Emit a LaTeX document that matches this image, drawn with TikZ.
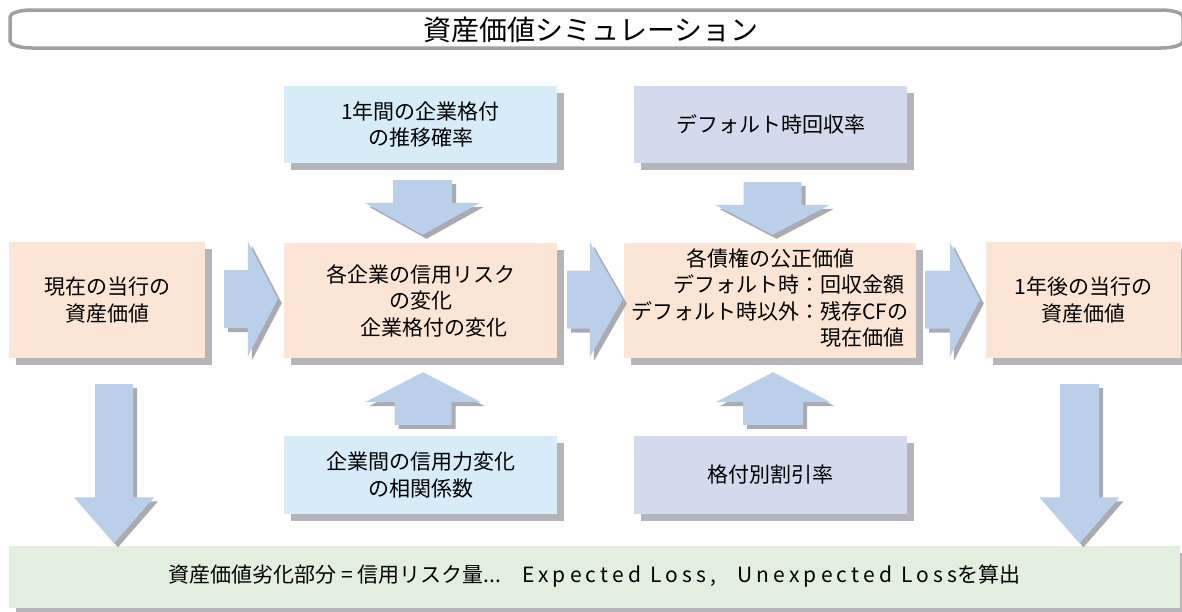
\documentclass[tikz,border=0pt]{standalone}
\usepackage{fontspec}
\setmainfont{Noto Sans CJK JP}
\newfontfamily\latinsp[LetterSpace=20]{Noto Sans CJK JP}
\usetikzlibrary{calc,shadows}
\definecolor{peach}{RGB}{252,229,212}
\definecolor{lblue}{RGB}{214,236,249}
\definecolor{lav}{RGB}{212,218,237}
\definecolor{lgreen}{RGB}{227,239,222}
\definecolor{ablue}{RGB}{185,207,234}
\definecolor{ashadow}{RGB}{170,170,176}
\definecolor{shgray}{RGB}{180,180,186}
\definecolor{tgray}{RGB}{160,160,160}

% right-pointing block arrow: #1 tail centre, #2 tip, #3 body half, #4 head half, #5 head length
\newcommand{\RightBlock}[5]{%
  \foreach \ofs/\col in {4/ashadow,0/ablue}{%
    \fill[\col] let \p1=(#1), \p2=(#2) in
      (\x1+\ofs*1pt,\y1+#3pt-\ofs*1pt) -- (\x2-#5pt+\ofs*1pt,\y1+#3pt-\ofs*1pt)
      -- (\x2-#5pt+\ofs*1pt,\y1+#4pt-\ofs*1pt) -- (\x2+\ofs*1pt,\y1-\ofs*1pt)
      -- (\x2-#5pt+\ofs*1pt,\y1-#4pt-\ofs*1pt) -- (\x2-#5pt+\ofs*1pt,\y1-#3pt-\ofs*1pt)
      -- (\x1+\ofs*1pt,\y1-#3pt-\ofs*1pt) -- cycle;}}
% down-pointing block arrow: #1 top centre, #2 tip
\newcommand{\DownBlock}[5]{%
  \foreach \ofs/\col in {4/ashadow,0/ablue}{%
    \fill[\col] let \p1=(#1), \p2=(#2) in
      (\x1-#3pt+\ofs*1pt,\y1-\ofs*1pt) -- (\x1+#3pt+\ofs*1pt,\y1-\ofs*1pt)
      -- (\x1+#3pt+\ofs*1pt,\y2+#5pt-\ofs*1pt) -- (\x1+#4pt+\ofs*1pt,\y2+#5pt-\ofs*1pt)
      -- (\x1+\ofs*1pt,\y2-\ofs*1pt) -- (\x1-#4pt+\ofs*1pt,\y2+#5pt-\ofs*1pt)
      -- (\x1-#3pt+\ofs*1pt,\y2+#5pt-\ofs*1pt) -- cycle;}}
% up-pointing block arrow: #1 bottom centre, #2 tip
\newcommand{\UpBlock}[5]{%
  \foreach \ofs/\col in {4/ashadow,0/ablue}{%
    \fill[\col] let \p1=(#1), \p2=(#2) in
      (\x1-#3pt+\ofs*1pt,\y1-\ofs*1pt) -- (\x1+#3pt+\ofs*1pt,\y1-\ofs*1pt)
      -- (\x1+#3pt+\ofs*1pt,\y2-#5pt-\ofs*1pt) -- (\x1+#4pt+\ofs*1pt,\y2-#5pt-\ofs*1pt)
      -- (\x1+\ofs*1pt,\y2-\ofs*1pt) -- (\x1-#4pt+\ofs*1pt,\y2-#5pt-\ofs*1pt)
      -- (\x1-#3pt+\ofs*1pt,\y2-#5pt-\ofs*1pt) -- cycle;}}

\tikzset{
  box/.style={draw=none, inner sep=0pt, align=center,
    font=\fontsize{21}{26.5}\selectfont,
    drop shadow={shadow xshift=7pt, shadow yshift=-7pt, fill=shgray, opacity=1}},
  peachbox/.style={box, fill=peach},
  bluebox/.style={box, fill=lblue},
  lavbox/.style={box, fill=lav},
  greenbox/.style={box, fill=lgreen},
  titleline/.style={draw=tgray, line width=3.5pt},
}

\begin{document}
\begin{tikzpicture}[x=1pt, y=-1pt]
\useasboundingbox (0,0) rectangle (1182,611);

% title frame
\draw[titleline] (32,10) -- (1161,10)
  arc[start angle=90, end angle=0, x radius=22pt, y radius=7pt] -- (1183,41)
  arc[start angle=0, end angle=-90, x radius=22pt, y radius=7pt] -- (32,48)
  arc[start angle=-90, end angle=-180, x radius=22pt, y radius=7pt] -- (10,17)
  arc[start angle=180, end angle=90, x radius=22pt, y radius=7pt] -- cycle;
\node[font=\fontsize{28}{32}\selectfont, inner sep=0pt] (title) at (591,30) {資産価値シミュレーション};

% boxes
\node[peachbox, minimum width=196pt, minimum height=116pt] (L) at (107,300) {現在の当行の\\資産価値};
\node[peachbox, minimum width=273pt, minimum height=115pt] (M1) at (420.5,300.5)
  {各企業の信用リスク\\の変化\\\hspace*{1.3em}企業格付の変化};
\node[peachbox, minimum width=292pt, minimum height=115pt] (M2) at (770,300.5)
  {\begin{tabular}{@{}r@{：}l@{}}
   \multicolumn{2}{@{}c@{}}{各債権の公正価値}\\
   デフォルト時&回収金額\\
   デフォルト時以外&残存CFの\\
   \multicolumn{1}{@{}r@{\hphantom{：}}}{}&現在価値
   \end{tabular}};
\node[peachbox, minimum width=195pt, minimum height=116pt] (R) at (1083.5,300) {1年後の当行の\\資産価値};
\node[bluebox, minimum width=273pt, minimum height=77pt] (T1) at (420.5,124.5) {1年間の企業格付\\の推移確率};
\node[lavbox, minimum width=273pt, minimum height=77pt] (T2) at (770.5,124.5) {デフォルト時回収率};
\node[bluebox, minimum width=273pt, minimum height=78pt] (B1) at (420.5,475) {企業間の信用力変化\\の相関係数};
\node[lavbox, minimum width=273pt, minimum height=78pt] (B2) at (770.5,475) {格付別割引率};
\node[greenbox, minimum width=1171pt, minimum height=62pt] (G) at (594.5,576.5)
  {資産価値劣化部分 = 信用リスク量...　{\latinsp Expected Loss,}　{\latinsp Unexpected Loss}を算出};

% arrow end points
\coordinate (r1s) at ($(L.east)+(19,-1)$);
\coordinate (r1e) at ($(M1.west)+(-6,-1)$);
\coordinate (r2s) at ($(M1.east)+(10,-1)$);
\coordinate (r2e) at ($(M2.west)+(-1,-1)$);
\coordinate (r3s) at ($(M2.east)+(9,-1)$);
\coordinate (r3e) at ($(R.west)+(-6,-1)$);
\coordinate (d1s) at ($(T1.south)+(2,17)$);
\coordinate (d1e) at ($(M1.north)+(2,-8)$);
\coordinate (d2s) at ($(T2.south)+(2,19)$);
\coordinate (d2e) at ($(M2.north)+(2,-8)$);
\coordinate (u1s) at ($(B1.north)+(2.5,-11)$);
\coordinate (u1e) at ($(M1.south)+(2.5,14)$);
\coordinate (u2s) at ($(B2.north)+(2.5,-11)$);
\coordinate (u2e) at ($(M2.south)+(2.5,14)$);
\coordinate (gls) at ($(L.south)+(7,26)$);
\coordinate (gle) at ($(G.north)+(0,-2)$);
\coordinate (grs) at ($(R.south)+(-4,26)$);
\coordinate (gre) at ($(G.north)+(0,-2)$);

% block arrows
\RightBlock{r1s}{r1e}{29}{57.5}{30}
\RightBlock{r2s}{r2e}{29}{57.5}{33}
\RightBlock{r3s}{r3e}{29}{57.5}{30}
\DownBlock{d1s}{d1e}{29.5}{57.5}{32}
\DownBlock{d2s}{d2e}{29}{57.5}{30}
\UpBlock{u1s}{u1e}{28.5}{58}{30}
\UpBlock{u2s}{u2e}{30}{57.5}{30}
\DownBlock{gls}{gle}{19}{40}{46}
\DownBlock{grs}{gre}{19.5}{40}{46}
\end{tikzpicture}
\end{document}
